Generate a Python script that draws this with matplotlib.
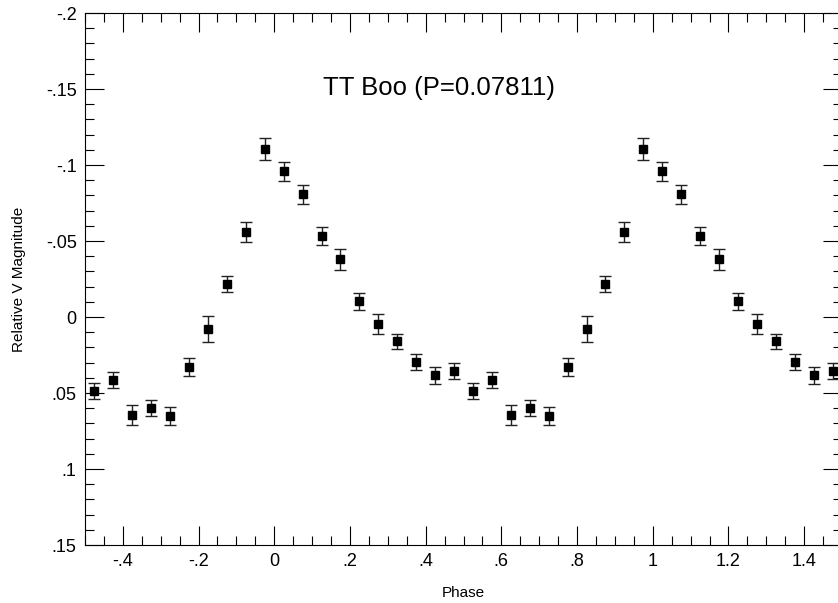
import numpy as np
import matplotlib
matplotlib.use("Agg")
import matplotlib.pyplot as plt
from matplotlib.ticker import MultipleLocator, FuncFormatter

plt.rcParams['font.family'] = ['Liberation Sans', 'DejaVu Sans']

# one cycle of folded photometry, plotted twice (phase and phase+1)
phase = [-0.475, -0.425, -0.375, -0.325, -0.275, -0.225, -0.175, -0.125, -0.075, -0.025,
         0.025, 0.075, 0.125, 0.175, 0.225, 0.275, 0.325, 0.375, 0.425, 0.475]
mag = [0.0487, 0.0414, 0.0647, 0.0599, 0.0653, 0.0329, 0.0079, -0.0217, -0.0559, -0.1103,
       -0.0958, -0.0807, -0.0531, -0.0380, -0.0103, 0.0046, 0.0160, 0.0296, 0.0384, 0.0357]
err = [0.0050, 0.0055, 0.0066, 0.0054, 0.0060, 0.0057, 0.0085, 0.0051, 0.0065, 0.0072,
       0.0063, 0.0063, 0.0060, 0.0068, 0.0058, 0.0066, 0.0048, 0.0055, 0.0057, 0.0052]

x = np.concatenate([phase, np.array(phase) + 1])
y = np.concatenate([mag, mag])
e = np.concatenate([err, err])


def short(v, pos):
    s = '%g' % round(v, 4)
    if s.startswith('0.'):
        s = s[1:]
    elif s.startswith('-0.'):
        s = '-' + s[2:]
    return s


fig = plt.figure(figsize=(8.38, 6.03), dpi=100)
ax = fig.add_axes([85 / 838, 1 - 545 / 603, 757 / 838, 532 / 603])

ax.errorbar(x, y, yerr=e, fmt='s', color='black', ms=6, ecolor='#222222',
            elinewidth=1, capsize=4.5, capthick=1)

ax.set_xlim(-0.5, 1.5)
ax.set_ylim(0.15, -0.2)

ax.xaxis.set_major_locator(MultipleLocator(0.2))
ax.xaxis.set_minor_locator(MultipleLocator(0.05))
ax.yaxis.set_major_locator(MultipleLocator(0.05))
ax.yaxis.set_minor_locator(MultipleLocator(0.01))
ax.xaxis.set_major_formatter(FuncFormatter(short))
ax.yaxis.set_major_formatter(FuncFormatter(short))

ax.tick_params(which='both', direction='in', top=True, right=True, width=0.8,
               labelsize=13, pad=6)
ax.tick_params(which='major', length=13.7)
ax.tick_params(which='minor', length=6.5)
for sp in ax.spines.values():
    sp.set_linewidth(0.8)
ax.spines['right'].set_visible(False)

ax.set_xlabel('Phase', fontsize=11, labelpad=11)
ax.set_ylabel('Relative V Magnitude', fontsize=11, labelpad=14)

ax.text(0.435, -0.1507, 'TT Boo (P=0.07811)', fontsize=18.5, ha='center', va='center')

fig.savefig('out.png', dpi=100)
